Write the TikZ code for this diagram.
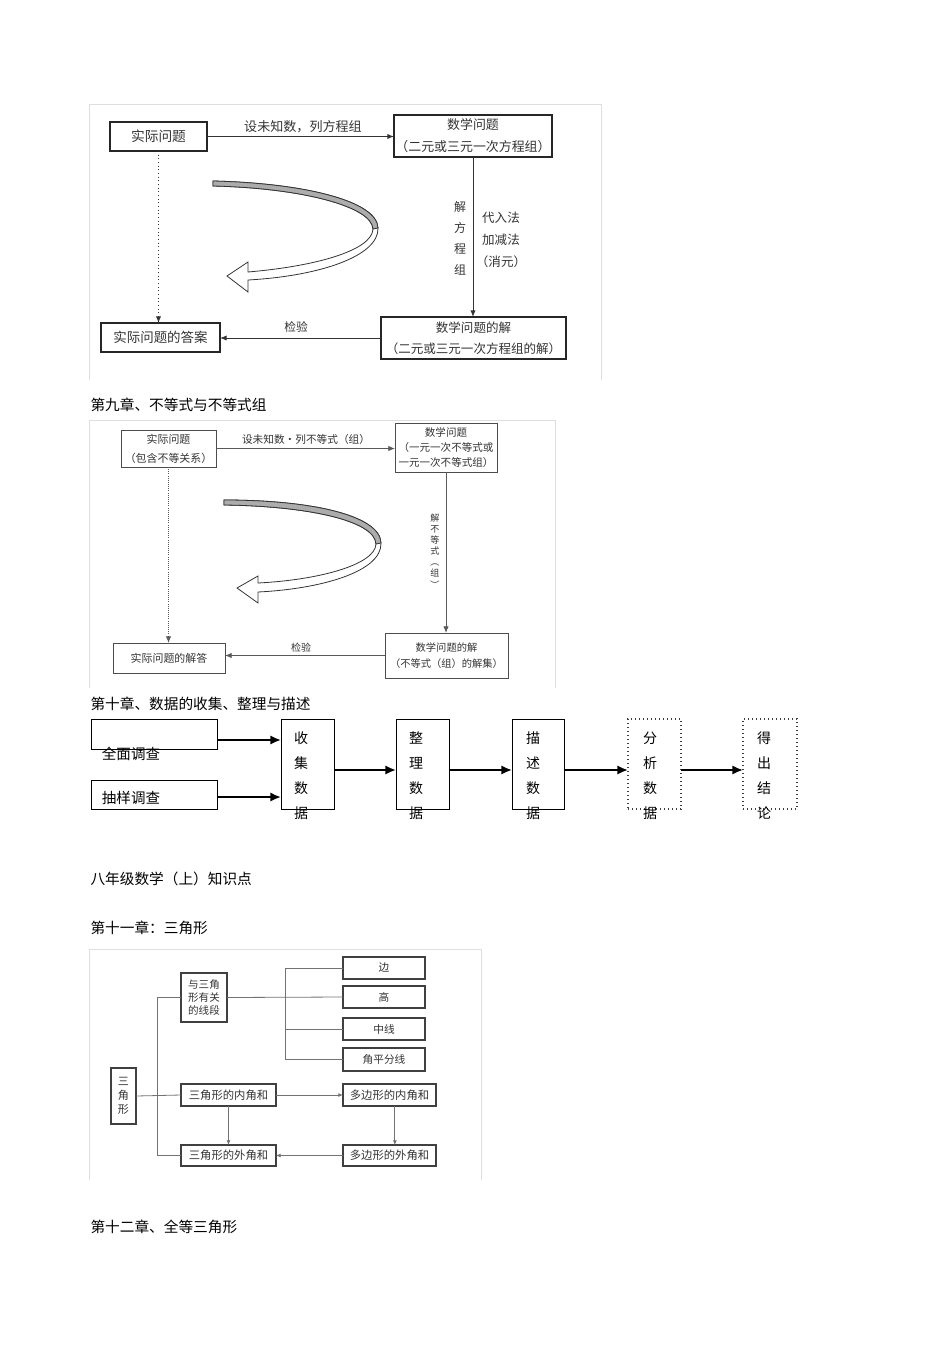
\documentclass[tikz,border=0pt]{standalone}
\usepackage{fontspec}
\setmainfont{Noto Sans CJK SC}
\usetikzlibrary{arrows.meta,fit}

\tikzset{every picture/.style={line width=0.75pt}}
\tikzset{
  box/.style={draw=black!85, line width=0.9pt, inner sep=0pt, outer sep=0pt},
  grbox/.style={draw=black!70, line width=0.75pt, inner sep=0pt, outer sep=0pt},
  trbox/.style={draw=black!75, line width=0.8pt, inner sep=0pt, outer sep=0pt},
  sqbox/.style={draw, line width=0.75pt, inner sep=0pt, outer sep=0pt},
  dotbox/.style={draw=black!75, dotted, line width=1pt, inner sep=0pt, outer sep=0pt},
  lbl/.style={inner sep=0.75pt, align=center, text=black!80},
  chap/.style={anchor=west, inner sep=0pt, font=\fontsize{11pt}{13pt}\selectfont},
  conn/.style={draw=black!80, line width=0.75pt, -{Latex[length=5pt,width=4pt]}},
  flowarr/.style={line width=1.5pt, -{Latex[length=8pt,width=7pt]}},
  treeln/.style={draw=black!55, line width=0.6pt},
  treearr/.style={treeln, -{Latex[length=3.5pt,width=3pt]}},
  pageframe/.style={draw=black!13, line width=0.75pt},
}

\begin{document}
\begin{tikzpicture}[x=0.75pt,y=0.75pt,yscale=-1,xscale=1]
\useasboundingbox (0,0) rectangle (950,1346);

%%%%%%%%%% picture 1: 二元一次方程组
\draw[pageframe] (89,380) -- (89,104) -- (601,104) -- (601,380);

%Shape: Rectangle
\node[box, fit={(110,122) (207,151)}] (q1) {};
\node[box, fit={(394,115) (552,157)}] (m1) {};
\node[box, fit={(381,317) (566,359)}] (s1) {};
\node[box, fit={(101,323) (220,352)}] (a1) {};

% Text Node
\node[lbl, font=\fontsize{10.3pt}{12pt}\selectfont] (q1t) at (q1.center) {实际问题};
\node[lbl, font=\fontsize{9.7pt}{16.5pt}\selectfont] (m1t) at (m1.center) {数学问题\\（二元或三元一次方程组）};
\node[lbl, font=\fontsize{9.4pt}{15.75pt}\selectfont] (s1t) at (s1.center) {数学问题的解\\（二元或三元一次方程组的解）};
\node[lbl, font=\fontsize{10.1pt}{12pt}\selectfont] (a1t) at (a1.center) {实际问题的答案};

%Straight Lines
\draw[conn] (q1.east) -- (q1.east -| m1.west);
\draw[conn] (m1.south) -- (m1.south |- s1.north);
\draw[conn] (s1.west) -- (s1.west -| a1.east);
\draw[conn, dotted] (q1.south) -- (q1.south |- a1.north);

% Text Node
\node[lbl, font=\fontsize{9.8pt}{12pt}\selectfont] (t1a) at (303,127) {设未知数，列方程组};
% Text Node
\node[lbl, font=\fontsize{9pt}{15.75pt}\selectfont] (t1b) at (460,238.5) {解\\方\\程\\组};
% Text Node
\node[lbl, font=\fontsize{9.4pt}{16.5pt}\selectfont] (t1c) at (501,240) {代入法\\加减法\\（消元）};
% Text Node
\node[lbl, font=\fontsize{8.8pt}{12pt}\selectfont] (t1d) at (296,327) {检验};

%Shape: Curved Arrow
\draw[black!80, fill=white, line width=0.6pt] (213,181) .. controls (300,183) and (377,200) .. (378,228)
  .. controls (379,256) and (320,276) .. (248,280) -- (248,292) -- (227,276) -- (248,262) -- (248,272)
  .. controls (318,266) and (372,250) .. (373,229) .. controls (372,206) and (300,188) .. (213,186) -- cycle;
\draw[black!80, fill=gray!65, line width=0.6pt] (213,181) .. controls (300,183) and (377,200) .. (378,228)
  -- (373,229) .. controls (372,206) and (300,188) .. (213,186) -- cycle;

%%%%%%%%%% picture 2: 不等式
\node[chap] (ch9) at (90,405) {第九章、不等式与不等式组};
\draw[pageframe] (89,688) -- (89,420) -- (555,420) -- (555,688);

%Shape: Rectangle
\node[grbox, fit={(121,430) (216,467)}] (q2) {};
\node[grbox, fit={(395,423) (497,472)}] (m2) {};
\node[grbox, fit={(385,633) (508,678)}] (s2) {};
\node[grbox, fit={(113,643) (225,673)}] (a2) {};

% Text Node
\node[lbl, font=\fontsize{8.2pt}{14.25pt}\selectfont] (q2t) at (q2.center) {实际问题\\（包含不等关系）};
\node[lbl, font=\fontsize{7.9pt}{11.25pt}\selectfont] (m2t) at (m2.center) {数学问题\\（一元一次不等式或\\一元一次不等式组）};
\node[lbl, font=\fontsize{7.7pt}{12pt}\selectfont] (s2t) at (s2.center) {数学问题的解\\（不等式（组）的解集）};
\node[lbl, font=\fontsize{8.2pt}{12pt}\selectfont] (a2t) at (a2.center) {实际问题的解答};

%Straight Lines
\draw[conn, black!65, line width=0.6pt] (q2.east) -- (q2.east -| m2.west);
\draw[conn, black!65, line width=0.6pt] (m2.south) -- (m2.south |- s2.north);
\draw[conn, black!65, line width=0.6pt] (s2.west) -- (s2.west -| a2.east);
\draw[conn, black!65, line width=0.6pt, densely dotted] (q2.south) -- (q2.south |- a2.north);

% Text Node
\node[lbl, font=\fontsize{8pt}{12pt}\selectfont] (t2a) at (306,439) {设未知数·列不等式（组）};
% Text Node
\node[lbl, font=\fontsize{6.8pt}{8.3pt}\selectfont] (t2b) at (435,551) {解\\不\\等\\式\\︵\\组\\︶};
% Text Node
\node[lbl, font=\fontsize{7.5pt}{12pt}\selectfont] (t2d) at (301,648) {检验};

%Shape: Curved Arrow
\draw[black!80, fill=white, line width=0.6pt] (224,500) .. controls (310,500) and (380,515) .. (381,543)
  .. controls (382,572) and (320,589) .. (258,592) -- (258,603) -- (237,588) -- (258,576) -- (258,583)
  .. controls (318,580) and (375,565) .. (376,544) .. controls (375,520) and (305,506) .. (224,505) -- cycle;
\draw[black!80, fill=gray!65, line width=0.6pt] (224,500) .. controls (310,500) and (380,515) .. (381,543)
  -- (376,544) .. controls (375,520) and (305,506) .. (224,505) -- cycle;

%%%%%%%%%% picture 3: 数据的收集、整理与描述
\node[chap] (ch10) at (90,704) {第十章、数据的收集、整理与描述};

%Shape: Rectangle
\node[sqbox, fit={(91,719) (217,749)}] (r1) {};
\node[inner sep=0pt, font=\fontsize{10.9pt}{13pt}\selectfont] (r1t) at (131,754) {全面调查};
%Shape: Rectangle
\node[sqbox, fit={(91,780) (217,809)}] (r2) {};
\node[inner sep=0pt, font=\fontsize{10.9pt}{13pt}\selectfont] (r2t) at (131,798) {抽样调查};

%Shape: Rectangle
\node[sqbox, fit={(281,719) (334,809)}] (c1) {};
\node[sqbox, fit={(396,719) (449,809)}] (c2) {};
\node[sqbox, fit={(512,719) (564,809)}] (c3) {};
\node[dotbox, fit={(628,719) (681,809)}] (c4) {};
\node[dotbox, fit={(743,719) (797,809)}] (c5) {};

% Text Node
\node[inner sep=0pt, align=center, font=\fontsize{10.5pt}{18.75pt}\selectfont] (c1t) at (301,776) {收\\集\\数\\据};
\node[inner sep=0pt, align=center, font=\fontsize{10.5pt}{18.75pt}\selectfont] (c2t) at (416,776) {整\\理\\数\\据};
\node[inner sep=0pt, align=center, font=\fontsize{10.5pt}{18.75pt}\selectfont] (c3t) at (533,776) {描\\述\\数\\据};
\node[inner sep=0pt, align=center, font=\fontsize{10.5pt}{18.75pt}\selectfont] (c4t) at (650,776) {分\\析\\数\\据};
\node[inner sep=0pt, align=center, font=\fontsize{10.5pt}{18.75pt}\selectfont] (c5t) at (764,776) {得\\出\\结\\论};

%Straight Lines
\draw[flowarr] ([yshift=4.5pt]r1.east) -- ([yshift=4.5pt]r1.east -| c1.west);
\draw[flowarr] ([yshift=1.9pt]r2.east) -- ([yshift=1.9pt]r2.east -| c1.west);
\draw[flowarr] ([yshift=4.5pt]c1.east) -- ([yshift=4.5pt]c2.west);
\draw[flowarr] ([yshift=4.5pt]c2.east) -- ([yshift=4.5pt]c3.west);
\draw[flowarr] ([yshift=4.5pt]c3.east) -- ([yshift=4.5pt]c4.west);
\draw[flowarr] ([yshift=4.5pt]c4.east) -- ([yshift=4.5pt]c5.west);

%%%%%%%%%% picture 4: 三角形
\node[chap] (ch8) at (90,879) {八年级数学（上）知识点};
\node[chap] (ch11) at (90,928) {第十一章：三角形};
\draw[pageframe] (89,1180) -- (89,949) -- (481,949) -- (481,1180);

%Shape: Rectangle
\node[trbox, fit={(111,1068) (136,1124)}] (tri) {};
\node[trbox, fit={(181,973) (227,1022)}] (seg) {};
\node[trbox, fit={(343,957) (425,979)}] (e1) {};
\node[trbox, fit={(343,986) (425,1008)}] (e2) {};
\node[trbox, fit={(343,1018) (425,1040)}] (e3) {};
\node[trbox, fit={(343,1048) (425,1071)}] (e4) {};
\node[trbox, fit={(181,1084) (276,1106)}] (i1) {};
\node[trbox, fit={(181,1145) (276,1166)}] (o1) {};
\node[trbox, fit={(343,1084) (436,1106)}] (i2) {};
\node[trbox, fit={(343,1145) (436,1166)}] (o2) {};

% Text Node
\node[lbl, font=\fontsize{8.3pt}{10.5pt}\selectfont] (trit) at (tri.center) {三\\角\\形};
\node[lbl, font=\fontsize{7.9pt}{10.1pt}\selectfont] (segt) at (seg.center) {与三角\\形有关\\的线段};
\node[lbl, font=\fontsize{8pt}{10pt}\selectfont] (e1t) at (e1.center) {边};
\node[lbl, font=\fontsize{8pt}{10pt}\selectfont] (e2t) at (e2.center) {高};
\node[lbl, font=\fontsize{8pt}{10pt}\selectfont] (e3t) at (e3.center) {中线};
\node[lbl, font=\fontsize{8pt}{10pt}\selectfont] (e4t) at (e4.center) {角平分线};
\node[lbl, font=\fontsize{8.5pt}{10pt}\selectfont] (i1t) at (i1.center) {三角形的内角和};
\node[lbl, font=\fontsize{8.5pt}{10pt}\selectfont] (o1t) at (o1.center) {三角形的外角和};
\node[lbl, font=\fontsize{8.5pt}{10pt}\selectfont] (i2t) at (i2.center) {多边形的内角和};
\node[lbl, font=\fontsize{8.5pt}{10pt}\selectfont] (o2t) at (o2.center) {多边形的外角和};

%Straight Lines
\draw[treeln] (tri.east) -- (i1.west);
\draw[treeln] (seg.west) -- ++(-24,0) |- (o1.west);
\draw[treeln] (seg.east) -- (e2.west);
\draw[treeln] (e1.west) -- ++(-58,0) |- (e4.west);
\draw[treeln] (e3.west) -- ++(-58,0);
\draw[treearr] (i1.east) -- (i2.west);
\draw[treearr] (i1.south) -- (o1.north);
\draw[treearr] ([xshift=4pt]i2.south) -- ([xshift=4pt]o2.north);
\draw[treearr] (o2.west) -- (o1.east);

\node[chap] (ch12) at (90,1227) {第十二章、全等三角形};

\end{tikzpicture}
\end{document}
